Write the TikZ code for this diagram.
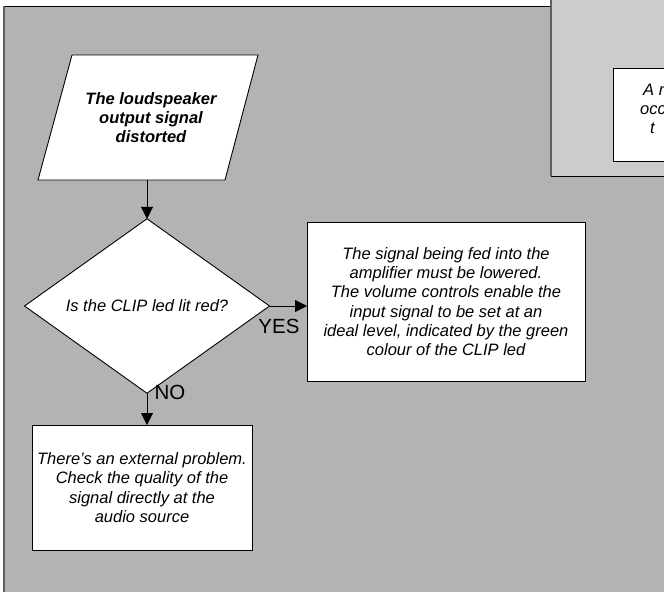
\documentclass[tikz,border=0pt]{standalone}
\usepackage{fontspec}
\setmainfont{Liberation Sans}
\usetikzlibrary{shapes.geometric,arrows.meta,calc}

\definecolor{panelgray}{RGB}{179,179,179}
\definecolor{sidegray}{RGB}{204,204,204}
\definecolor{edgegray}{RGB}{96,96,96}

\begin{document}
\begin{tikzpicture}[x=1pt,y=-1pt,
  txt/.style={font=\fontsize{16.5}{19.3}\selectfont\itshape, align=center},
  boldtxt/.style={font=\fontsize{16.5}{19.3}\selectfont\bfseries\itshape, align=center},
  box/.style={draw=black, fill=white, line width=0.9pt, inner sep=0pt, outer sep=0pt},
  flow/.style={-{Triangle[length=12pt,width=12pt]}, line width=1pt},
  lbl/.style={font=\fontsize{20.5}{22}\selectfont, inner sep=0pt}]
\useasboundingbox (0,0) rectangle (664,592);

% page and main panel
\fill[white] (0,0) rectangle (664,592);
\fill[panelgray] (3,6) rectangle (664,592);
\draw[black, line width=1pt] (3,6) -- (664,6);
\draw[edgegray, line width=2pt] (4,6) -- (4,592);

% side panel (upper right)
\fill[sidegray] (551,0) rectangle (664,176);
\draw[black, line width=1pt] (551,176) -- (664,176);
\draw[edgegray, line width=2pt] (551,0) -- (551,176);
\draw[box] (613,68) rectangle (672,161);
\node[txt, anchor=base west, inner sep=0pt] (side1) at (643,95) {A r};
\node[txt, anchor=base west, inner sep=0pt] (side2) at (640,114) {occ};
\node[txt, anchor=base west, inner sep=0pt] (side3) at (650,133) {t};

% start: input parallelogram
\draw[box] (72,55) -- (258,55) -- (225,180) -- (38,180) -- cycle;
\node[boldtxt, inner sep=0pt, minimum width=150pt, minimum height=125pt] (start) at (151,117.5)
  {The loudspeaker\\output signal\\distorted};

% decision
\node[box, diamond, minimum width=245pt, minimum height=134pt, txt] (q) at (147,306)
  {\raisebox{-2pt}{Is the CLIP led lit red?}};

% outcomes
\node[box, txt, minimum width=278pt, minimum height=159pt] (yes) at (446,301.5)
  {The signal being fed into the\\amplifier must be lowered.\\The volume controls enable the\\input signal to be set at an\\ideal level, indicated by the green\\colour of the CLIP led};
\node[box, txt, minimum width=220pt, minimum height=125pt] (no) at (142,487.5)
  {There's an external problem.\\Check the quality of the\\signal directly at the\\audio source};

% connectors
\draw[flow] (q.north |- start.south) -- (q.north);
\draw[flow] (q.east) -- (q.east -| yes.west);
\draw[flow] (q.south) -- (q.south |- no.north);

% branch labels
\node[lbl] (yeslbl) at (279,326) {YES};
\node[lbl] (nolbl) at (170,392) {NO};
\end{tikzpicture}
\end{document}
